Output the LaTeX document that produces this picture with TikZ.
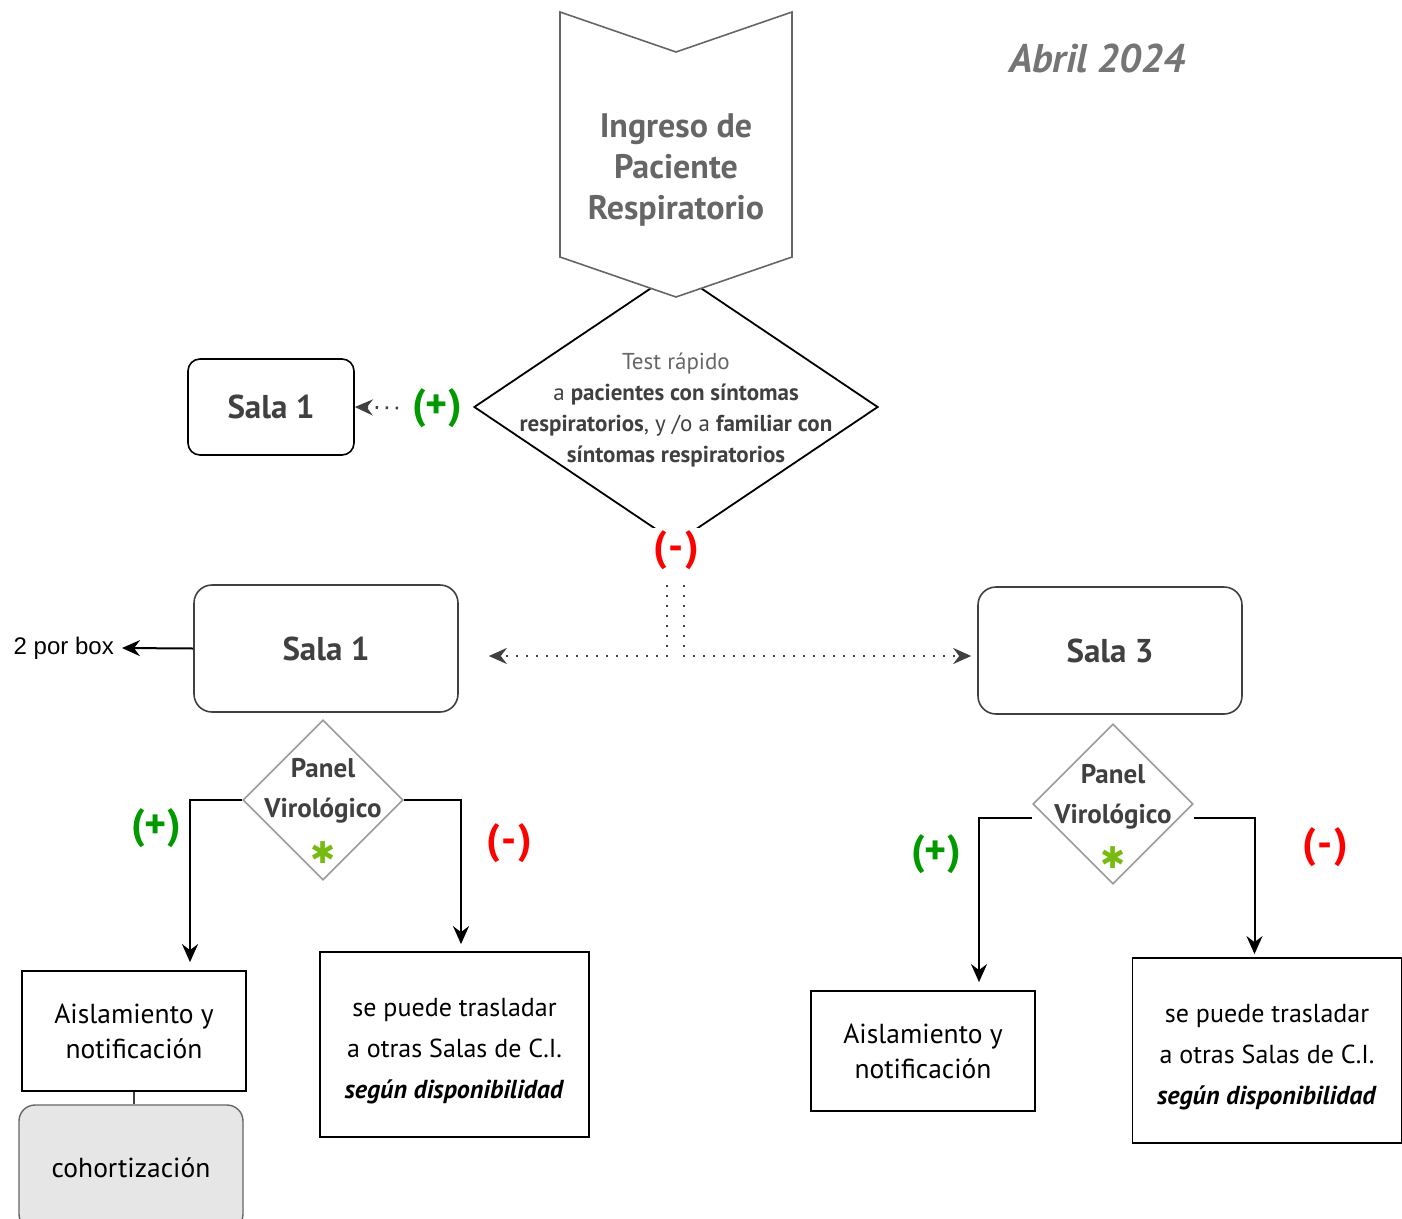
\documentclass[tikz,border=0pt]{standalone}
\usepackage{fontspec}
\setmainfont{PT Sans}
\newfontfamily\arialfont{Liberation Sans}
\newfontfamily\symfont{DejaVu Sans}
\usetikzlibrary{arrows.meta,calc,shapes.geometric}
\definecolor{txtgray}{HTML}{404040}
\definecolor{midgray}{HTML}{666666}
\definecolor{edgegray}{HTML}{999999}
\definecolor{plusgreen}{HTML}{009900}
\definecolor{minusred}{HTML}{FF0000}
\definecolor{stargreen}{HTML}{77BB11}
\definecolor{cohortfill}{HTML}{E6E6E6}
\tikzset{
	salabox/.style={draw=txtgray, line width=1.6pt, rounded corners=18pt, minimum width=264pt, minimum height=127pt, text=txtgray, font=\fontsize{33}{40}\selectfont\bfseries},
	plainbox/.style={draw=black, line width=1.8pt, minimum width=224pt, minimum height=120pt, align=center, font=\fontsize{27.5}{35}\selectfont},
	trasbox/.style={draw=black, line width=1.8pt, minimum width=269pt, minimum height=185pt},
	trastxt/.style={align=center, font=\fontsize{26}{41}\selectfont},
	paneldia/.style={diamond, draw=edgegray, line width=1.6pt, minimum width=160pt, minimum height=160pt, inner sep=0pt},
	paneltxt/.style={align=center, text=txtgray, font=\fontsize{27}{40}\selectfont\bfseries},
	astx/.style={text=stargreen, font=\symfont\fontsize{30}{30}\selectfont},
	poslbl/.style={text=plusgreen, font=\fontsize{42}{44}\selectfont\bfseries},
	neglbl/.style={text=minusred, font=\fontsize{42}{44}\selectfont\bfseries},
	arr/.style={line width=2pt, -{Stealth[length=18pt, width=16pt, inset=6pt]}},
	dotarr/.style={draw=txtgray, line width=2.8pt, dash pattern=on 2.4pt off 7.6pt, -{Stealth[length=18pt, width=16pt, inset=6pt]}}
}

\begin{document}
\begin{tikzpicture}[x=1pt, y=-1pt]
			%%%%% START %%%%%
			\useasboundingbox (0, 0) rectangle (1402, 1218);
			
			% test rapido
			\node[diamond, draw=black, line width=1.8pt, minimum width=404pt, minimum height=272pt, inner sep=0pt] (test) at (676, 407) {};
			\node[align=center, text=txtgray, font=\fontsize{23}{31}\selectfont] (testtxt) at (676, 410) {\textcolor{midgray}{Test rápido}\\a \textbf{pacientes con síntomas}\\\textbf{respiratorios}, y /o a \textbf{familiar con}\\\textbf{síntomas respiratorios}};
			
			% ingreso
			\draw[draw=midgray, line width=1.6pt, fill=white] (560, 12) -- (676, 52) -- (792, 12) -- (792, 257) -- (676, 297) -- (560, 257) -- cycle;
			\node[align=center, text=midgray, font=\fontsize{34}{41}\selectfont\bfseries] (ingreso) at (676, 170) {Ingreso de\\Paciente\\Respiratorio};
			
			\node[text=midgray!90, font=\fontsize{40}{44}\selectfont\bfseries\itshape] (fecha) at (1097, 58) {Abril 2024};
			
			\node[neglbl, fill=white, inner sep=2pt] (negtest) at (676, 550) {(\kern1.5pt-\kern1.5pt)};
			\node[poslbl, inner sep=14pt] (postest) at (437, 408) {(+)};
			
			\node[salabox, rounded corners=12pt, minimum width=166pt, minimum height=96pt, draw=black] (salaS) at (271, 407) {Sala 1};
			\draw[dotarr] (postest.west) -- (salaS.east);
			
			% salas
			\node[salabox] (salaA) at (326, 648.5) {Sala 1};
			\node[salabox] (salaC) at (1110, 650.5) {Sala 3};
			
			\coordinate (negL) at (667, 585);
			\coordinate (negR) at (684, 585);
			\draw[dotarr, shorten >=30pt] (negL) |- ([yshift=-7.5pt]salaA.east);
			\draw[dotarr, shorten >=6pt] (negR) |- ([yshift=-5.5pt]salaC.west);
			
			\node[anchor=east, font=\arialfont\fontsize{24}{28}\selectfont, inner sep=8pt] (porbox) at (122, 648) {2 por box};
			\draw[arr] (salaA.west) -- (porbox.east);
			
			% panel sala 1
			\node[paneldia] (panelA) at (323, 800) {};
			\node[paneltxt] (panelAtxt) at (323, 791) {Panel\\Virológico};
			\node[astx] (astA) at (323, 853) {✱};
			
			\node[plainbox] (aislA) at (134, 1031) {Aislamiento y\\notificación};
			\node[trasbox] (trasA) at (454.5, 1044.5) {};
			\node[trastxt] (trasAtxt) at (454.5, 1051) {se puede trasladar\\a otras Salas de C.I.\\\textbf{\textit{según disponibilidad}}};
			\node[plainbox, draw=midgray, line width=1.4pt, fill=cohortfill, rounded corners=16pt, minimum height=125pt] (cohort) at (131, 1167.5) {cohortización};
			\draw[line width=1.6pt, draw=txtgray] (aislA.south) -- (aislA.south |- cohort.north);
			
			\draw[arr, shorten >=8pt] (panelA.west) -| ([xshift=56pt]aislA.north);
			\draw[arr, shorten >=7pt] (panelA.east) -| ([xshift=6.5pt]trasA.north);
			\node[poslbl] (posA) at (156, 828) {(+)};
			\node[neglbl] (negA) at (509, 843) {(\kern1.5pt-\kern1.5pt)};
			
			% panel sala 3
			\node[paneldia] (panelC) at (1113, 804) {};
			\node[paneltxt] (panelCtxt) at (1113, 797) {Panel\\Virológico};
			\node[astx] (astC) at (1113, 858) {✱};
			
			\node[plainbox] (aislC) at (923, 1051) {Aislamiento y\\notificación};
			\node[trasbox] (trasC) at (1267, 1050.5) {};
			\node[trastxt] (trasCtxt) at (1267, 1057) {se puede trasladar\\a otras Salas de C.I.\\\textbf{\textit{según disponibilidad}}};
			
			\draw[arr, shorten >=8pt] ([yshift=-14pt]panelC.west) -| ([xshift=56pt]aislC.north);
			\draw[arr, shorten >=3pt] ([yshift=-14pt]panelC.east) -| ([xshift=-12.5pt]trasC.north);
			\node[poslbl] (posC) at (936, 854) {(+)};
			\node[neglbl] (negC) at (1325, 847) {(\kern1.5pt-\kern1.5pt)};
			
			%%%%% END %%%%%
		\end{tikzpicture}
\end{document}
